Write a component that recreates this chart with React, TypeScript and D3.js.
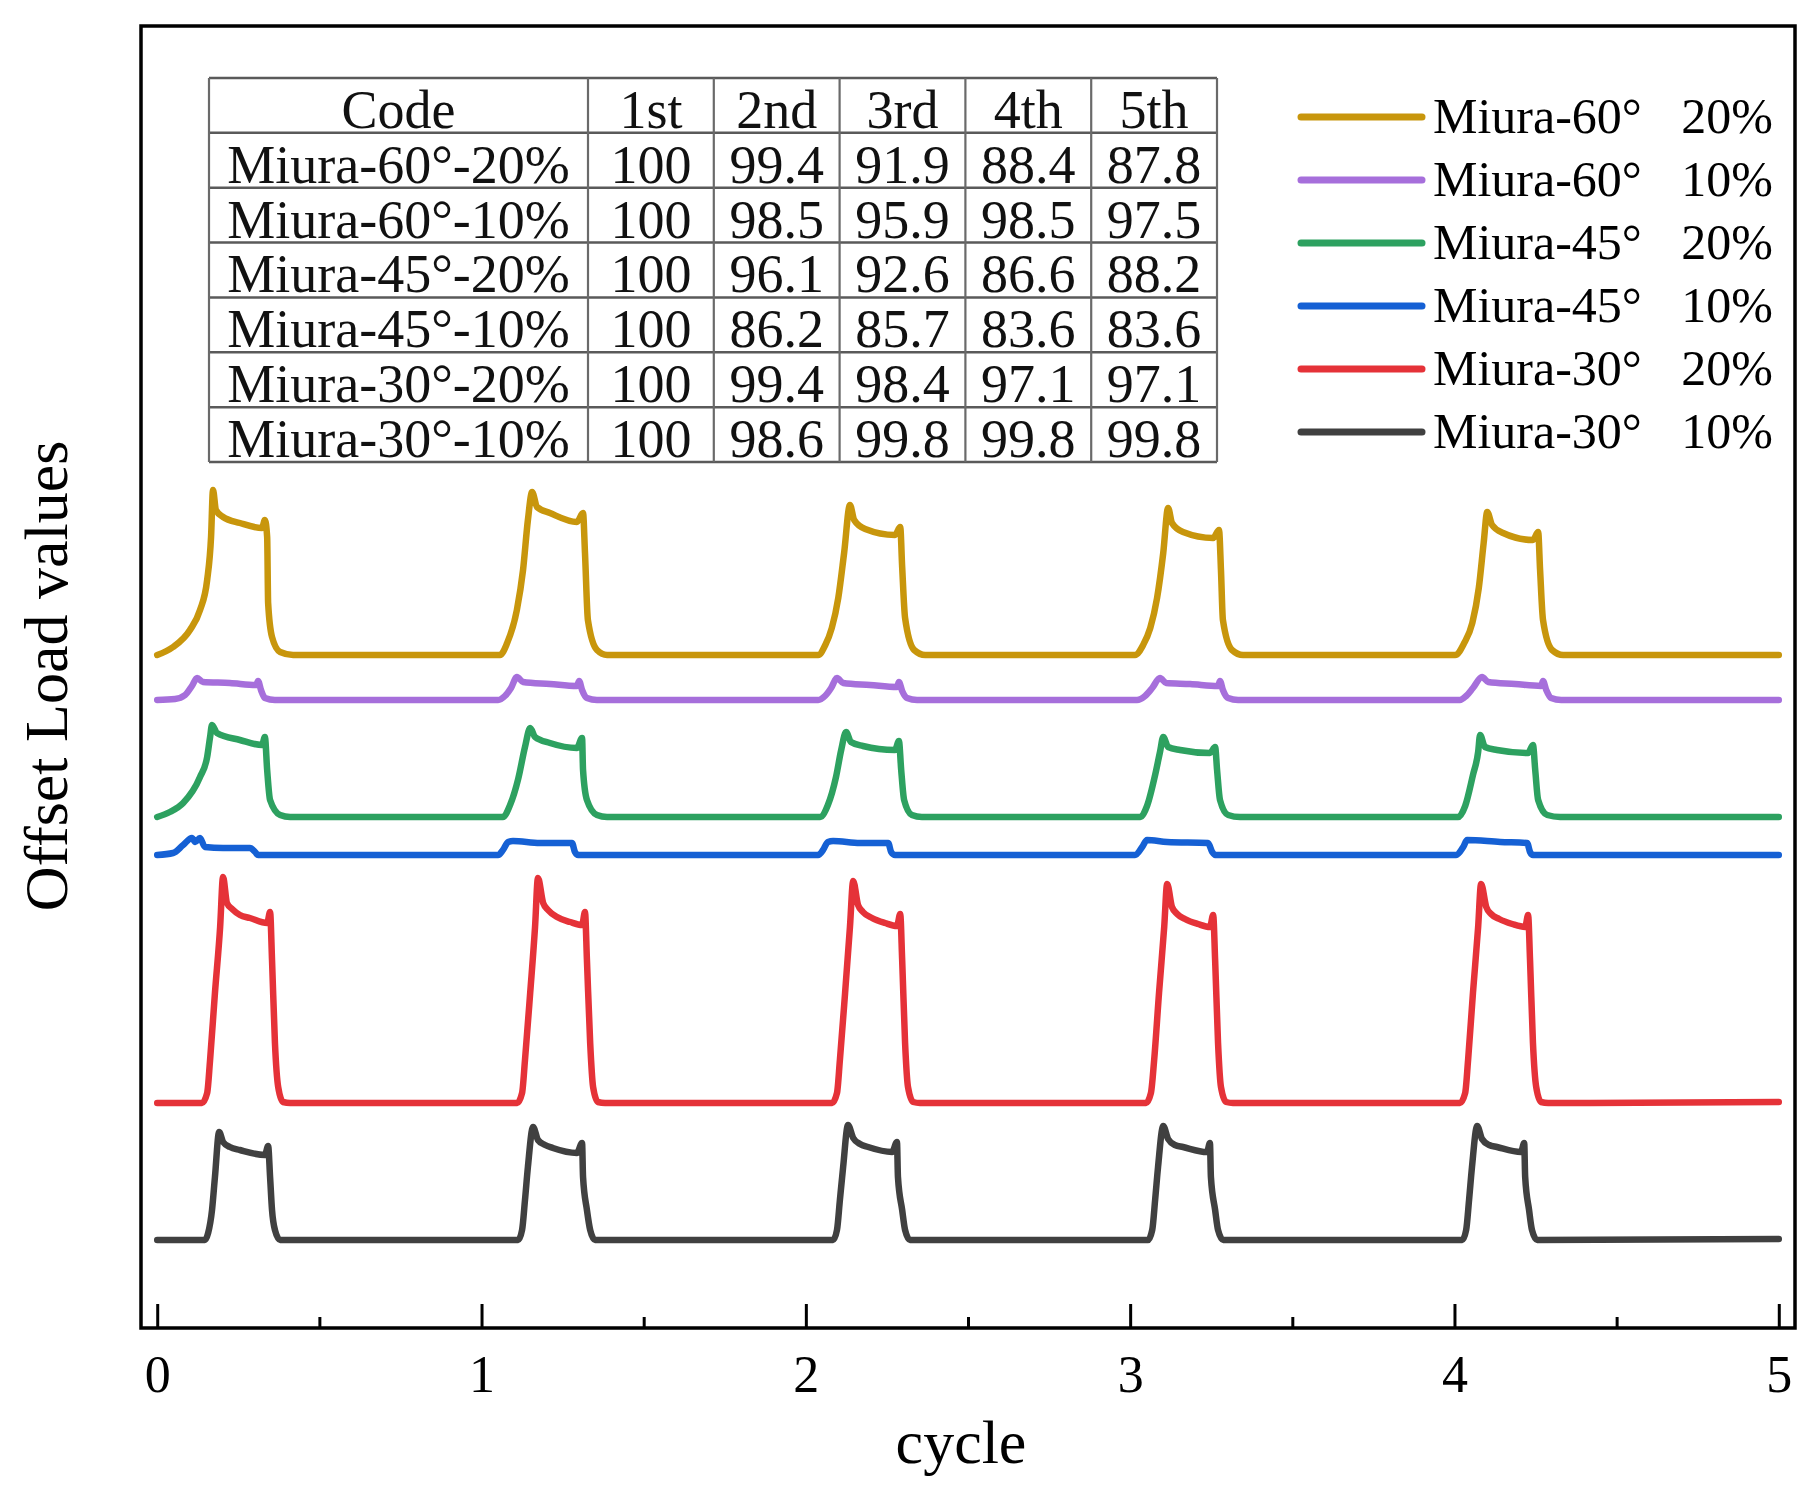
import React, { useRef, useEffect } from "react";
import * as d3 from "d3";

type Pt = [number, number];

const FONT = "'Liberation Serif', 'Times New Roman', serif";

// legend entries
const legendNames = ["Miura-60°", "Miura-60°", "Miura-45°", "Miura-45°", "Miura-30°", "Miura-30°"];
const legendRates = ["20%", "10%", "20%", "10%", "20%", "10%"];
const lineColors = ["#C8960C", "#A66FDB", "#2DA160", "#1560D4", "#E53238", "#404040"];

// offset load curves, [cycle, offset load]
const miura60_20: Pt[] = [
  [0, 673], [0.049, 681], [0.101, 698], [0.132, 718], [0.154, 748], [0.166, 791], [0.172, 838],
  [0.181, 818], [0.203, 811], [0.255, 805], [0.323, 800], [0.332, 808], [0.339, 791], [0.342, 725],
  [0.354, 691], [0.379, 676], [0.419, 673],
  [1.057, 673], [1.079, 685], [1.109, 718], [1.128, 758], [1.143, 808], [1.156, 836], [1.171, 821],
  [1.211, 815], [1.294, 806], [1.313, 815], [1.319, 775], [1.328, 708], [1.356, 678], [1.387, 673],
  [2.038, 673], [2.06, 683], [2.08, 700], [2.1, 730], [2.118, 775], [2.136, 823], [2.149, 808],
  [2.183, 799], [2.275, 793], [2.291, 801], [2.297, 761], [2.306, 710], [2.334, 678], [2.368, 673],
  [3.015, 673], [3.04, 683], [3.062, 700], [3.083, 730], [3.102, 775], [3.117, 820], [3.129, 805],
  [3.163, 796], [3.256, 790], [3.274, 798], [3.28, 758], [3.286, 708], [3.314, 678], [3.348, 673],
  [4.002, 673], [4.03, 685], [4.055, 705], [4.075, 740], [4.09, 785], [4.101, 816], [4.116, 803],
  [4.15, 795], [4.242, 788], [4.258, 796], [4.264, 758], [4.273, 708], [4.301, 678], [4.335, 673],
  [5, 673],
];

const miura60_10: Pt[] = [
  [0, 628], [0.055, 629], [0.086, 633], [0.107, 642], [0.123, 650], [0.141, 646], [0.224, 645],
  [0.305, 643], [0.311, 647], [0.32, 638], [0.332, 630], [0.363, 628],
  [1.051, 628], [1.072, 632], [1.091, 640], [1.109, 651], [1.128, 646], [1.211, 644], [1.294, 642],
  [1.301, 647], [1.31, 638], [1.325, 630], [1.356, 628],
  [2.038, 628], [2.059, 632], [2.078, 640], [2.096, 650], [2.115, 645], [2.198, 643], [2.281, 641],
  [2.287, 646], [2.297, 637], [2.312, 630], [2.343, 628],
  [3.021, 628], [3.046, 632], [3.068, 640], [3.092, 650], [3.111, 645], [3.185, 644], [3.271, 642],
  [3.277, 647], [3.286, 638], [3.302, 630], [3.333, 628],
  [4.017, 628], [4.036, 632], [4.057, 640], [4.085, 651], [4.104, 646], [4.187, 644], [4.267, 642],
  [4.273, 647], [4.283, 638], [4.298, 630], [4.329, 628],
  [5, 628],
];

const miura45_20: Pt[] = [
  [0, 511], [0.039, 516], [0.08, 525], [0.132, 551], [0.154, 571], [0.163, 591], [0.169, 603],
  [0.184, 595], [0.255, 588], [0.323, 583], [0.332, 591], [0.339, 558], [0.348, 528], [0.379, 513],
  [0.41, 511],
  [1.066, 511], [1.088, 523], [1.113, 549], [1.134, 581], [1.15, 600], [1.165, 591], [1.211, 585],
  [1.294, 580], [1.31, 590], [1.313, 558], [1.325, 528], [1.356, 513], [1.387, 511],
  [2.044, 511], [2.068, 523], [2.093, 551], [2.109, 578], [2.124, 596], [2.139, 586], [2.176, 582],
  [2.275, 578], [2.287, 587], [2.294, 558], [2.303, 528], [2.327, 513], [2.358, 511],
  [3.031, 511], [3.052, 522], [3.077, 553], [3.092, 576], [3.102, 591], [3.117, 581], [3.154, 578],
  [3.246, 575], [3.262, 581], [3.268, 558], [3.277, 528], [3.302, 513], [3.339, 511],
  [4.011, 511], [4.033, 522], [4.057, 553], [4.073, 576], [4.079, 593], [4.094, 581], [4.131, 578],
  [4.227, 575], [4.242, 583], [4.249, 558], [4.258, 528], [4.286, 513], [4.326, 511],
  [5, 511],
];

const miura45_10: Pt[] = [
  [0, 473], [0.049, 475], [0.08, 483], [0.107, 490], [0.117, 486], [0.132, 490], [0.147, 481],
  [0.203, 480], [0.286, 480], [0.302, 476], [0.311, 473],
  [1.051, 473], [1.066, 478], [1.082, 486], [1.097, 487], [1.18, 485], [1.279, 485], [1.288, 476],
  [1.298, 473],
  [2.038, 473], [2.053, 478], [2.068, 486], [2.084, 487], [2.167, 485], [2.254, 485], [2.263, 476],
  [2.275, 473],
  [3.015, 473], [3.037, 481], [3.052, 488], [3.114, 486], [3.24, 485], [3.253, 476], [3.262, 473],
  [4.005, 473], [4.027, 481], [4.039, 488], [4.141, 486], [4.224, 485], [4.233, 476], [4.242, 473],
  [5, 473],
];

const miura30_20: Pt[] = [
  [0, 225], [0.138, 225], [0.154, 235], [0.163, 268], [0.178, 335], [0.194, 401], [0.203, 451],
  [0.215, 425], [0.231, 419], [0.255, 413], [0.286, 410], [0.339, 405], [0.348, 416], [0.354, 368],
  [0.363, 285], [0.373, 241], [0.388, 226], [0.41, 225],
  [1.11, 225], [1.125, 235], [1.134, 268], [1.15, 335], [1.165, 401], [1.174, 450], [1.19, 425],
  [1.205, 418], [1.233, 411], [1.273, 406], [1.31, 403], [1.319, 416], [1.325, 368], [1.335, 285],
  [1.344, 241], [1.359, 226], [1.381, 225],
  [2.081, 225], [2.096, 235], [2.105, 268], [2.121, 335], [2.136, 401], [2.146, 447], [2.161, 423],
  [2.176, 416], [2.204, 410], [2.244, 405], [2.281, 402], [2.291, 414], [2.297, 368], [2.306, 285],
  [2.315, 241], [2.331, 226], [2.352, 225],
  [3.049, 225], [3.064, 235], [3.074, 268], [3.089, 335], [3.105, 401], [3.114, 444], [3.129, 421],
  [3.145, 414], [3.169, 409], [3.209, 404], [3.246, 401], [3.256, 413], [3.262, 368], [3.271, 285],
  [3.28, 241], [3.296, 226], [3.317, 225],
  [4.017, 225], [4.033, 235], [4.042, 268], [4.057, 335], [4.073, 401], [4.082, 444], [4.098, 421],
  [4.113, 414], [4.138, 409], [4.178, 404], [4.218, 401], [4.227, 413], [4.233, 368], [4.242, 285],
  [4.252, 241], [4.267, 226], [4.289, 225],
  [5, 226],
];

const miura30_10: Pt[] = [
  [0, 88], [0.147, 88], [0.157, 95], [0.169, 118], [0.178, 151], [0.191, 196], [0.203, 186],
  [0.224, 181], [0.255, 178], [0.332, 173], [0.342, 182], [0.348, 151], [0.354, 118], [0.363, 98],
  [0.379, 88],
  [1.113, 88], [1.125, 98], [1.134, 128], [1.143, 161], [1.159, 201], [1.174, 188], [1.196, 183],
  [1.22, 180], [1.294, 175], [1.31, 185], [1.313, 151], [1.325, 118], [1.335, 98], [1.35, 88],
  [2.084, 88], [2.096, 98], [2.105, 128], [2.115, 161], [2.13, 203], [2.146, 190], [2.167, 184],
  [2.192, 181], [2.266, 176], [2.281, 186], [2.284, 151], [2.297, 118], [2.306, 98], [2.321, 88],
  [3.055, 88], [3.068, 98], [3.077, 128], [3.086, 161], [3.102, 202], [3.117, 189], [3.138, 183],
  [3.163, 181], [3.237, 176], [3.246, 185], [3.249, 151], [3.262, 118], [3.271, 98], [3.287, 88],
  [4.024, 88], [4.036, 98], [4.045, 128], [4.054, 161], [4.07, 202], [4.085, 189], [4.107, 183],
  [4.131, 181], [4.205, 176], [4.215, 185], [4.218, 151], [4.23, 118], [4.239, 98], [4.255, 88],
  [5, 89],
];

const seriesData = [miura60_20, miura60_10, miura45_20, miura45_10, miura30_20, miura30_10];

// x axis ticks
const xTicks = [0, 1, 2, 3, 4, 5];
const xMinorTicks = [0.5, 1.5, 2.5, 3.5, 4.5];

// inset table
const tableHeader = ["Code", "1st", "2nd", "3rd", "4th", "5th"];
const tableCodes = [
  "Miura-60°-20%",
  "Miura-60°-10%",
  "Miura-45°-20%",
  "Miura-45°-10%",
  "Miura-30°-20%",
  "Miura-30°-10%",
];
const retention = [
  [100, 99.4, 91.9, 88.4, 87.8],
  [100, 98.5, 95.9, 98.5, 97.5],
  [100, 96.1, 92.6, 86.6, 88.2],
  [100, 86.2, 85.7, 83.6, 83.6],
  [100, 99.4, 98.4, 97.1, 97.1],
  [100, 98.6, 99.8, 99.8, 99.8],
];

const App: React.FC = () => {
  const ref = useRef<SVGSVGElement | null>(null);

  useEffect(() => {
    const width = 1819;
    const height = 1495;
    const left = 141;
    const right = 1795;
    const top = 26;
    const bottom = 1328;

    const svg = d3.select(ref.current);
    svg.selectAll("*").remove();
    svg
      .attr("width", width)
      .attr("height", height)
      .attr("viewBox", `0 0 ${width} ${height}`)
      .style("font-family", FONT);

    svg.append("rect").attr("width", width).attr("height", height).attr("fill", "#fff");

    const x = d3.scaleLinear().domain([-0.05, 5.05]).range([left, right]);
    const y = d3.scaleLinear().domain([0, 1302]).range([bottom, top]);

    // curves
    const line = d3
      .line<Pt>()
      .x((d) => x(d[0]))
      .y((d) => y(d[1]))
      .curve(d3.curveMonotoneX);

    svg
      .append("g")
      .selectAll("path")
      .data(seriesData)
      .join("path")
      .attr("d", (d) => line(d))
      .attr("fill", "none")
      .attr("stroke", (d, i) => lineColors[i])
      .attr("stroke-width", 6.5)
      .attr("stroke-linejoin", "round")
      .attr("stroke-linecap", "round");

    // frame
    svg
      .append("rect")
      .attr("x", left)
      .attr("y", top)
      .attr("width", right - left)
      .attr("height", bottom - top)
      .attr("fill", "none")
      .attr("stroke", "#000")
      .attr("stroke-width", 3.5);

    // x axis, ticks point inwards
    const gx = svg
      .append("g")
      .attr("transform", `translate(0,${bottom})`)
      .call(d3.axisBottom(x).tickValues(xTicks).tickSize(-24).tickFormat(d3.format("d")));
    gx.select(".domain").remove();
    gx.selectAll(".tick line").attr("stroke", "#000").attr("stroke-width", 3);
    gx.selectAll(".tick text")
      .attr("y", 64)
      .attr("dy", null)
      .attr("fill", "#000")
      .attr("font-size", 52)
      .attr("font-family", FONT);

    const gm = svg
      .append("g")
      .attr("transform", `translate(0,${bottom})`)
      .call(d3.axisBottom(x).tickValues(xMinorTicks).tickSize(-11).tickFormat(() => ""));
    gm.select(".domain").remove();
    gm.selectAll(".tick line").attr("stroke", "#000").attr("stroke-width", 3);

    // axis titles
    svg
      .append("text")
      .attr("x", 961)
      .attr("y", 1463)
      .attr("text-anchor", "middle")
      .attr("font-size", 62)
      .text("cycle");

    svg
      .append("text")
      .attr("transform", "translate(67,676) rotate(-90)")
      .attr("text-anchor", "middle")
      .attr("font-size", 62)
      .text("Offset Load values");

    // inset table
    const tLeft = 209;
    const tTop = 78;
    const codeW = 379;
    const numW = 125.8;
    const rowH = 54.86;
    const nRows = tableCodes.length + 1;
    const colEdges = [tLeft, ...d3.range(6).map((i) => tLeft + codeW + i * numW)];
    const tRight = colEdges[colEdges.length - 1];
    const tBottom = tTop + nRows * rowH;
    const colCenter = (c: number) => (colEdges[c] + colEdges[c + 1]) / 2;

    const table = svg.append("g");
    table
      .append("rect")
      .attr("x", tLeft)
      .attr("y", tTop)
      .attr("width", tRight - tLeft)
      .attr("height", tBottom - tTop)
      .attr("fill", "#fff");

    table
      .selectAll("line.h")
      .data(d3.range(nRows + 1))
      .join("line")
      .attr("x1", tLeft)
      .attr("x2", tRight)
      .attr("y1", (i) => tTop + i * rowH)
      .attr("y2", (i) => tTop + i * rowH)
      .attr("stroke", "#5a5a5a")
      .attr("stroke-width", 2.5);

    table
      .selectAll("line.v")
      .data(colEdges)
      .join("line")
      .attr("x1", (d) => d)
      .attr("x2", (d) => d)
      .attr("y1", tTop)
      .attr("y2", tBottom)
      .attr("stroke", "#6a6a6a")
      .attr("stroke-width", 2.2);

    const rows: string[][] = [
      tableHeader,
      ...tableCodes.map((c, i) => [c, ...retention[i].map((v) => String(v))]),
    ];

    rows.forEach((row, r) => {
      table
        .append("g")
        .selectAll("text")
        .data(row)
        .join("text")
        .attr("x", (d, c) => colCenter(c))
        .attr("y", tTop + (r + 1) * rowH - 5)
        .attr("text-anchor", "middle")
        .attr("font-size", 54)
        .attr("fill", "#111")
        .text((d) => d);
    });

    // legend
    const legend = svg
      .append("g")
      .selectAll("g")
      .data(legendNames)
      .join("g")
      .attr("transform", (d, i) => `translate(0,${117 + i * 63})`);

    legend
      .append("line")
      .attr("x1", 1301)
      .attr("x2", 1422)
      .attr("stroke", (d, i) => lineColors[i])
      .attr("stroke-width", 7)
      .attr("stroke-linecap", "round");

    legend
      .append("text")
      .attr("x", 1433)
      .attr("y", 16)
      .attr("font-size", 50)
      .text((d) => d);

    legend
      .append("text")
      .attr("x", 1773)
      .attr("y", 16)
      .attr("text-anchor", "end")
      .attr("font-size", 50)
      .text((d, i) => legendRates[i]);
  }, []);

  return (
    <div style={{ position: "absolute", left: 0, top: 0 }}>
      <svg ref={ref}></svg>
    </div>
  );
};

export default App;
